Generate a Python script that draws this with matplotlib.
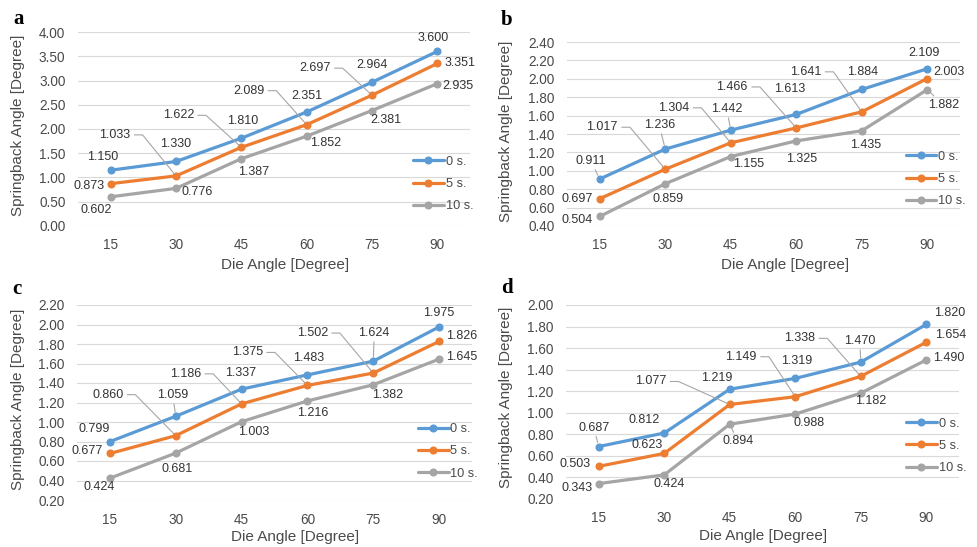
import matplotlib
matplotlib.use('Agg')
import matplotlib.pyplot as plt
from matplotlib.lines import Line2D
from matplotlib.transforms import IdentityTransform

plt.rcParams['font.family'] = ['Liberation Sans', 'DejaVu Sans']

# data
die_angles = [15, 30, 45, 60, 75, 90]
series_names = ['0 s.', '5 s.', '10 s.']

a_0s = [1.150, 1.330, 1.810, 2.351, 2.964, 3.600]
a_5s = [0.873, 1.033, 1.622, 2.089, 2.697, 3.351]
a_10s = [0.602, 0.776, 1.387, 1.852, 2.381, 2.935]

b_0s = [0.911, 1.236, 1.442, 1.613, 1.884, 2.109]
b_5s = [0.697, 1.017, 1.304, 1.466, 1.641, 2.003]
b_10s = [0.504, 0.859, 1.155, 1.325, 1.435, 1.882]

c_0s = [0.799, 1.059, 1.337, 1.483, 1.624, 1.975]
c_5s = [0.677, 0.860, 1.186, 1.375, 1.502, 1.826]
c_10s = [0.424, 0.681, 1.003, 1.216, 1.382, 1.645]

d_0s = [0.687, 0.812, 1.219, 1.319, 1.470, 1.820]
d_5s = [0.503, 0.623, 1.077, 1.149, 1.338, 1.654]
d_10s = [0.343, 0.424, 0.894, 0.988, 1.182, 1.490]

colors = ['#5B9BD5', '#ED7D31', '#A5A5A5']
tick_col = '#4A4A4A'
label_col = '#333333'
leader_col = '#A6A6A6'

W, H = 978, 547

# layout of each panel: plot area in pixels (left, top, right, bottom), y range, y step
panels = {
    'a': dict(series=[a_0s, a_5s, a_10s], rect=(78, 32, 470, 226), ylim=(0, 4), step=0.5,
              leg=(0.855, 0.216), letter=(19, 19), ylab=(18, 125), xlab=(285, 265)),
    'b': dict(series=[b_0s, b_5s, b_10s], rect=(567, 42, 960, 226), ylim=(0.4, 2.4), step=0.2,
              leg=(0.862, 0.255), letter=(507, 20), ylab=(506, 131), xlab=(785, 265)),
    'c': dict(series=[c_0s, c_5s, c_10s], rect=(77, 305, 472, 500), ylim=(0.2, 2.2), step=0.2,
              leg=(0.863, 0.249), letter=(17, 289), ylab=(18, 399), xlab=(295, 537)),
    'd': dict(series=[d_0s, d_5s, d_10s], rect=(566, 305, 959, 499), ylim=(0.2, 2.0), step=0.2,
              leg=(0.865, 0.274), letter=(507, 288), ylab=(506, 397), xlab=(763, 536)),
}

# label offsets from each point in pixels (dx, dy up), optional leader: 's' short, 'l' long
offsets = {
    'a': [[(-8, 13), (0, 17), (1, 17), (0, 16), (0, 17), (-4, 13)],
          [(-22, -2), (-61, 41, 'l'), (-63, 32, 'l'), (-58, 34, 'l'), (-57, 27, 'l'), (23, 0)],
          [(-14, -13), (21, -4), (12, -13), (19, -7), (14, -9), (21, -2)]],
    'b': [[(-9, 18, 's'), (-6, 24, 's'), (-4, 21, 's'), (-7, 25), (1, 17), (-3, 16)],
          [(-23, 0), (-63, 42, 'l'), (-57, 35, 'l'), (-64, 41, 'l'), (-56, 40, 'l'), (22, 7)],
          [(-23, -4), (3, -15), (18, -7), (5, -18), (4, -14), (16, -15, 's')]],
    'c': [[(-16, 13), (-3, 21, 's'), (-1, 16), (1, 17), (1, 28, 's'), (0, 14)],
          [(-23, 2), (-68, 41, 'l'), (-56, 30, 'l'), (-60, 33, 'l'), (-61, 40, 'l'), (23, 5)],
          [(-11, -9), (1, -16), (12, -10), (5, -12), (14, -10), (23, 2)]],
    'd': [[(-5, 19, 's'), (-20, 13), (-13, 11), (1, 17), (-1, 21, 's'), (23, 11)],
          [(-24, 2), (-17, 8), (-79, 23, 'l'), (-54, 40, 'l'), (-61, 38, 'l'), (24, 7)],
          [(-22, -4), (5, -9), (8, -17, 's'), (14, -9), (10, -8), (23, 2)]],
}

fig = plt.figure(figsize=(W / 100, H / 100), dpi=100)
long_leaders = []

for key, p in panels.items():
    l, t, r, b = p['rect']
    ax = fig.add_axes([l / W, 1 - b / H, (r - l) / W, (b - t) / H])
    xs = list(range(len(die_angles)))
    for s, (vals, col, name) in enumerate(zip(p['series'], colors, series_names)):
        ax.plot(xs, vals, color=col, lw=2.3, marker='o', ms=4.8, label=name,
                solid_capstyle='round', zorder=3)
        for i, v in enumerate(vals):
            off = offsets[key][s][i]
            kw = {}
            if len(off) == 3 and off[2] == 's':
                kw['arrowprops'] = dict(arrowstyle='-', color=leader_col, lw=0.8,
                                        shrinkA=0, shrinkB=3)
            txt = ax.annotate(f'{v:.3f}', xy=(i, v), xytext=(off[0], off[1]),
                              textcoords='offset pixels', ha='center', va='center',
                              fontsize=9, color=label_col, zorder=4, **kw)
            if len(off) == 3 and off[2] == 'l':
                long_leaders.append((txt, ax, i, v))

    lo, hi = p['ylim']
    ax.set_ylim(lo, hi)
    ax.set_xlim(-0.5, len(die_angles) - 0.5)
    n = int(round((hi - lo) / p['step']))
    ticks = [lo + k * p['step'] for k in range(n + 1)]
    ax.set_yticks(ticks)
    ax.set_yticklabels([f'{v:.2f}' for v in ticks])
    ax.set_xticks(xs)
    ax.set_xticklabels([str(a) for a in die_angles])
    ax.tick_params(length=0, labelsize=9.8, colors=tick_col)
    ax.tick_params(axis='y', pad=9)
    ax.tick_params(axis='x', pad=9)
    ax.grid(axis='y', color='#D9D9D9', lw=0.8)
    ax.set_axisbelow(True)
    for sp in ax.spines.values():
        sp.set_visible(False)

    leg = ax.legend(frameon=False, loc='center left', bbox_to_anchor=p['leg'],
                    handlelength=2.4, handletextpad=0.15, labelspacing=0.8,
                    borderpad=0, borderaxespad=0, fontsize=9.2)
    for tx in leg.get_texts():
        tx.set_color(tick_col)

    fig.text(p['letter'][0] / W, 1 - p['letter'][1] / H, key, family='Liberation Serif',
             fontweight='bold', fontsize=15, ha='center', va='center')
    fig.text(p['ylab'][0] / W, 1 - p['ylab'][1] / H, 'Springback Angle [Degree]',
             rotation=90, fontsize=11, color=tick_col, ha='center', va='center')
    fig.text(p['xlab'][0] / W, 1 - p['xlab'][1] / H, 'Die Angle [Degree]',
             fontsize=11, color=tick_col, ha='center', va='center')

# leader lines: short horizontal stub from the label, then down to the point
fig.canvas.draw()
for txt, ax, i, v in long_leaders:
    bb = txt.get_window_extent()
    ym = (bb.y0 + bb.y1) / 2
    x0 = bb.x1 + 4
    x1 = x0 + 8
    ex, ey = ax.transData.transform((i, v))
    dx, dy = ex - x1, ey - ym
    dist = (dx ** 2 + dy ** 2) ** 0.5
    ex -= dx / dist * 3
    ey -= dy / dist * 3
    fig.add_artist(Line2D([x0, x1, ex], [ym, ym, ey], transform=IdentityTransform(),
                          color=leader_col, lw=0.8, zorder=5))

fig.savefig('out.png', dpi=100)
